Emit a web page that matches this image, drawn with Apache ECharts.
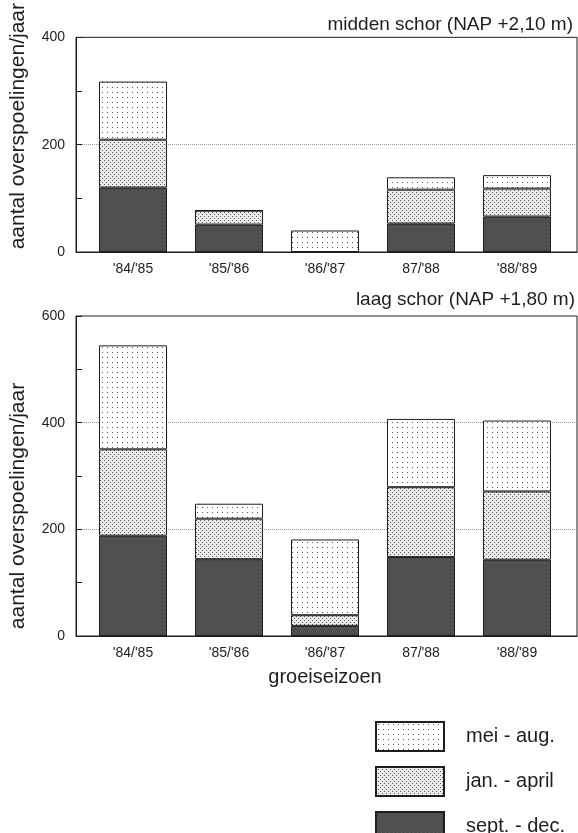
<!DOCTYPE html>
<html>
<head>
<meta charset="utf-8">
<script src="https://cdn.jsdelivr.net/npm/echarts@6/dist/echarts.min.js"></script>
<style>
  html, body { margin: 0; padding: 0; background: #fff; }
  #main { width: 578px; height: 833px; }
</style>
</head>
<body>
<div id="main"></div>
<script>
// seizoenen
let seasons = ["'84/'85", "'85/'86", "'86/'87", "87/'88", "'88/'89"];

// midden schor (NAP +2,10 m)
let middenSeptDec = [120, 51, 0, 53, 66];
let middenJanApril = [89, 26, 0, 63, 52];
let middenMeiAug = [108, 0, 40, 23, 25];

// laag schor (NAP +1,80 m)
let laagSeptDec = [188, 144, 19, 148, 143];
let laagJanApril = [162, 76, 20, 131, 128];
let laagMeiAug = [195, 28, 142, 128, 133];

let yTicksMidden = [0, 200, 400];
let yTicksLaag = [0, 200, 400, 600];

let font = "'Liberation Sans', Arial, sans-serif";
let ink = "#1e1e1e";

// rasterpatronen
let makePattern = (w, h, bg, dots, dotColor) => {
  let c = document.createElement("canvas");
  c.width = w;
  c.height = h;
  let ctx = c.getContext("2d");
  ctx.fillStyle = bg;
  ctx.fillRect(0, 0, w, h);
  ctx.fillStyle = dotColor;
  dots.forEach((d) => ctx.fillRect(d[0], d[1], 1, 1));
  return { image: c, repeat: "repeat" };
};

let meiFill = makePattern(5, 5, "#ffffff", [[2, 2]], "#555");
let janFill = makePattern(4, 4, "#ebebeb", [[0, 0], [2, 2]], "#555");
let septFill = makePattern(4, 4, "#4c4c4c", [[1, 0], [3, 2], [0, 3]], "#5e5e5e");

let myChart = document.getElementById("main");
let initChart = echarts.init(myChart);

// grid 0/2: kader met y-as, grid 1/3: staven
let panels = [
  { top: 37, height: 215 },
  { top: 316, height: 320 },
];

let grids = [];
panels.forEach((p) => {
  grids.push({ left: 71, right: 1, top: p.top, height: p.height, show: true, borderColor: ink, borderWidth: 1 });
  grids.push({ left: 85, right: 13, top: p.top, height: p.height });
});

let frameX = (gridIndex) => ({
  type: "value",
  gridIndex: gridIndex,
  min: 0,
  max: 1,
  axisLine: { show: true, lineStyle: { color: ink, width: 1 } },
  axisTick: { show: false },
  axisLabel: { show: false },
  splitLine: { show: false },
});

let barX = (gridIndex, withName) => ({
  type: "category",
  gridIndex: gridIndex,
  data: seasons,
  name: withName ? "groeiseizoen" : "",
  nameLocation: "middle",
  nameGap: 31,
  nameTextStyle: { fontFamily: font, fontSize: 20, color: ink },
  axisLine: { show: false },
  axisTick: { show: false },
  axisLabel: { fontFamily: font, fontSize: 14, color: ink, margin: 10 },
});

let frameY = (gridIndex, max, ticks, padding) => ({
  type: "value",
  gridIndex: gridIndex,
  min: 0,
  max: max,
  interval: 200,
  name: "aantal overspoelingen/jaar",
  nameLocation: "middle",
  nameRotate: 90,
  nameGap: 47,
  nameTextStyle: { fontFamily: font, fontSize: 21, color: ink, padding: padding },
  axisLine: { show: true, lineStyle: { color: ink, width: 1 } },
  axisTick: { show: true, inside: true, length: 6, lineStyle: { color: ink } },
  minorTick: { show: true, splitNumber: 2, length: 6, lineStyle: { color: ink } },
  splitLine: {
    show: true,
    showMinLine: false,
    showMaxLine: false,
    lineStyle: { color: "#999", type: "dotted", width: 1 },
  },
  axisLabel: {
    formatter: (v) => (ticks.indexOf(v) >= 0 ? String(v) : ""),
    fontFamily: font,
    fontSize: 14,
    color: ink,
    margin: 11,
  },
});

let barY = (gridIndex, max) => ({
  type: "value",
  gridIndex: gridIndex,
  min: 0,
  max: max,
  show: false,
  splitLine: { show: false },
});

let barSeries = (name, vals, fill, axisIndex) => ({
  name: name,
  type: "bar",
  xAxisIndex: axisIndex,
  yAxisIndex: axisIndex,
  stack: "st" + axisIndex,
  barWidth: 68,
  data: vals,
  itemStyle: { color: fill, borderColor: ink, borderWidth: 1 },
  emphasis: { disabled: true },
});

let option = {
  backgroundColor: "#fff",
  animation: false,
  title: [
    {
      text: "midden schor (NAP +2,10 m)",
      right: 5,
      top: 15,
      padding: 0,
      textStyle: { fontFamily: font, fontSize: 19, fontWeight: "normal", color: ink },
    },
    {
      text: "laag schor (NAP +1,80 m)",
      right: 3,
      top: 290,
      padding: 0,
      textStyle: { fontFamily: font, fontSize: 19, fontWeight: "normal", color: ink },
    },
  ],
  legend: {
    data: ["mei - aug.", "jan. - april", "sept. - dec."],
    orient: "vertical",
    left: 375,
    top: 721,
    height: 140,
    padding: 0,
    itemWidth: 68,
    itemHeight: 29,
    itemGap: 14,
    icon: "rect",
    selectedMode: false,
    textStyle: { fontFamily: font, fontSize: 20, color: ink, padding: [0, 0, 0, 17] },
  },
  grid: grids,
  xAxis: [frameX(0), barX(1, false), frameX(2), barX(3, true)],
  yAxis: [
    frameY(0, 400, yTicksMidden, [0, 0, 0, 37]),
    barY(1, 400),
    frameY(2, 600, yTicksLaag, [0, 60, 0, 0]),
    barY(3, 600),
  ],
  series: [
    barSeries("sept. - dec.", middenSeptDec, septFill, 1),
    barSeries("jan. - april", middenJanApril, janFill, 1),
    barSeries("mei - aug.", middenMeiAug, meiFill, 1),
    barSeries("sept. - dec.", laagSeptDec, septFill, 3),
    barSeries("jan. - april", laagJanApril, janFill, 3),
    barSeries("mei - aug.", laagMeiAug, meiFill, 3),
  ],
};

initChart.setOption(option);
</script>
</body>
</html>
